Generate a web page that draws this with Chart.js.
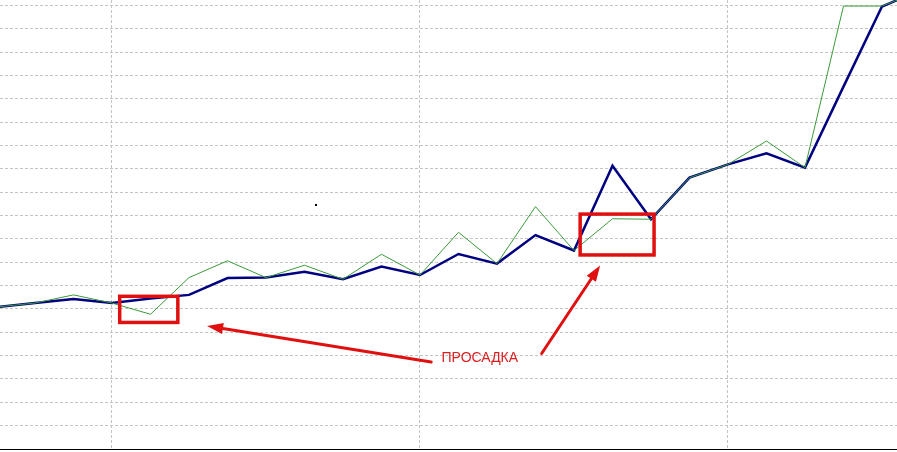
<!DOCTYPE html>
<html>
<head>
<meta charset="utf-8">
<script src="https://cdn.jsdelivr.net/npm/chart.js@4"></script>
<style>
  html,body{margin:0;padding:0;background:#fff;}
  #wrap{width:897px;height:452px;position:relative;}
</style>
</head>
<body>
<div id="wrap"><canvas id="chart"></canvas></div>
<script>
// ===== DATA =====
const steps = [0,1,2,3,4,5,6,7,8,9,10,11,12,13,14,15,16,17,18,19,20,21,22,23,24];
const equity = [60.8,62.5,64.2,62.5,64.5,66.0,73.2,73.4,75.9,72.7,78.1,74.5,83.5,79.4,91.6,85.0,121.3,98.4,116.2,121.9,126.6,120.5,155.2,189.5,196.4];
const balance = [60.8,62.5,66.0,62.5,57.7,73.4,80.6,73.4,78.7,72.7,83.4,74.5,92.8,79.4,103.8,85.0,98.6,98.4,116.2,121.9,131.9,120.5,189.7,189.7,196.0];
const xGridTicks = [3,11,19];
const yGridTicks = [0,10,20,30,40,50,60,70,80,90,100,110,120,130,140,150,160,170,180,190];
const label = "ПРОСАДКА";

// ===== ANNOTATIONS (data coords) =====
const boxes = [
  {x1:3.2, x2:4.71, y1:65.4, y2:54.2},
  {x1:15.16, x2:17.08, y1:100.6, y2:83.1}
];
const arrows = [
  {fx:11.29, fy:37.3, tx:5.47, ty:52.7},
  {fx:14.16, fy:40.9, tx:15.68, ty:78.6}
];

const overlay = {
  id:"overlay",
  afterDatasetsDraw(chart){
    const ctx = chart.ctx;
    const xs = chart.scales.x, ys = chart.scales.y;
    const px = v => xs.getPixelForValue(v);
    const py = v => ys.getPixelForValue(v);
    ctx.save();
    ctx.strokeStyle = "#e01010";
    ctx.fillStyle = "#e01010";
    ctx.lineWidth = 3.5;
    boxes.forEach(b=>{
      ctx.strokeRect(px(b.x1), py(b.y1), px(b.x2)-px(b.x1), py(b.y2)-py(b.y1));
    });
    ctx.lineWidth = 3;
    ctx.lineCap = "round";
    arrows.forEach(a=>{
      let x0=px(a.fx), y0=py(a.fy), x1=px(a.tx), y1=py(a.ty);
      let ang = Math.atan2(y1-y0, x1-x0);
      let hl = 16, hw = 5.5;
      let bx = x1 - Math.cos(ang)*hl, by = y1 - Math.sin(ang)*hl;
      ctx.beginPath();
      ctx.moveTo(x0,y0);
      ctx.lineTo(bx,by);
      ctx.stroke();
      ctx.beginPath();
      ctx.moveTo(x1,y1);
      ctx.lineTo(bx + Math.sin(ang)*hw, by - Math.cos(ang)*hw);
      ctx.lineTo(bx - Math.sin(ang)*hw, by + Math.cos(ang)*hw);
      ctx.closePath();
      ctx.fill();
    });
    ctx.font = "14px 'Liberation Sans', Arial, sans-serif";
    ctx.fillStyle = "#dd1f1f";
    ctx.textBaseline = "alphabetic";
    ctx.fillText(label, px(11.56), py(37.1));
    // stray dot
    ctx.fillStyle = "#000";
    ctx.fillRect(Math.round(px(8.3))-1, Math.round(py(104.5))-1, 2, 2);
    ctx.restore();
  }
};

// ===== CHART =====
let ctx = document.getElementById("chart").getContext("2d");

new Chart(ctx,{
  type:"line",
  data:{
    datasets:[
      {
        data: steps.map((s,i)=>({x:s, y:balance[i]})),
        borderColor:"#3a9a3a",
        borderWidth:1,
        pointRadius:0,
        tension:0,
        order:0
      },
      {
        data: steps.map((s,i)=>({x:s, y:equity[i]})),
        borderColor:"#000080",
        borderWidth:2.5,
        pointRadius:0,
        tension:0,
        order:1
      }
    ]
  },
  options:{
    responsive:true,
    maintainAspectRatio:false,
    animation:false,
    layout:{padding:{top:0,bottom:3,left:0,right:0}},
    plugins:{legend:{display:false}, tooltip:{enabled:false}},
    scales:{
      x:{
        type:"linear",
        min:0.0909,
        max:23.39,
        afterBuildTicks: s => { s.ticks = xGridTicks.map(v=>({value:v})); },
        ticks:{display:false},
        grid:{color:"#c4c4c4", lineWidth:1, drawTicks:false},
        border:{display:true, color:"#000", width:1, dash:[3,2]}
      },
      y:{
        type:"linear",
        min:0,
        max:192.29,
        afterBuildTicks: s => { s.ticks = yGridTicks.map(v=>({value:v})); },
        ticks:{display:false},
        grid:{
          color: c => c.tick && c.tick.value===0 ? "rgba(0,0,0,0)" : "#c4c4c4",
          lineWidth:1,
          drawTicks:false
        },
        border:{display:false, dash:[3,2]}
      }
    }
  },
  plugins:[overlay]
});
</script>
</body>
</html>
